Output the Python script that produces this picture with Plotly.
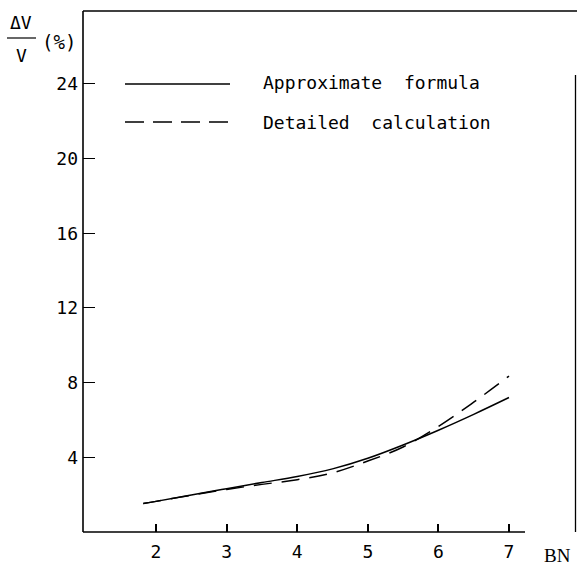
import plotly.graph_objects as go

# ---- data ----
bn_approx = [1.82, 2.0, 2.5, 3.0, 3.5, 4.0, 4.5, 5.0, 5.5, 6.0, 6.5, 7.0]
dv_approx = [1.53, 1.64, 1.98, 2.32, 2.65, 2.97, 3.38, 3.95, 4.66, 5.45, 6.30, 7.20]

bn_detail = [1.82, 2.0, 2.5, 3.0, 3.5, 4.0, 4.5, 5.0, 5.5, 6.0, 6.5, 7.0]
dv_detail = [1.53, 1.64, 1.97, 2.28, 2.55, 2.80, 3.17, 3.80, 4.55, 5.65, 6.95, 8.35]

x_ticks = [2, 3, 4, 5, 6, 7]
y_ticks = [4, 8, 12, 16, 20, 24]

label_approx = "Approximate  formula"
label_detail = "Detailed  calculation"

W, H = 577, 565
L, R, T, B = 83, 576, 11, 532

def px(x):
    return (x - L) / (R - L)

def py(y):
    return (B - y) / (B - T)

MONO = "DejaVu Sans Mono"

fig = go.Figure()
fig.add_trace(go.Scatter(x=bn_approx, y=dv_approx, mode="lines",
                         line=dict(color="black", width=1.5, shape="spline"),
                         showlegend=False))
fig.add_trace(go.Scatter(x=bn_detail, y=dv_detail, mode="lines",
                         line=dict(color="black", width=1.5, shape="spline", dash="18px,10px"),
                         showlegend=False))

shapes = []
# frame
shapes.append(dict(type="line", xref="paper", yref="paper", x0=0, x1=0, y0=0, y1=1,
                   line=dict(color="black", width=1.6)))
shapes.append(dict(type="line", xref="paper", yref="paper", x0=0, x1=px(577), y0=1, y1=1,
                   line=dict(color="black", width=1.3)))
shapes.append(dict(type="line", xref="paper", yref="paper", x0=px(575.5), x1=px(575.5), y0=0, y1=py(75),
                   line=dict(color="black", width=1.3)))
shapes.append(dict(type="line", xref="paper", yref="paper", x0=0, x1=px(525), y0=0, y1=0,
                   line=dict(color="black", width=1.6)))
# legend samples
shapes.append(dict(type="line", xref="paper", yref="paper", x0=px(125), x1=px(230), y0=py(84), y1=py(84),
                   line=dict(color="black", width=1.4)))
shapes.append(dict(type="line", xref="paper", yref="paper", x0=px(125), x1=px(229), y0=py(122), y1=py(122),
                   line=dict(color="black", width=1.4, dash="19px,9px")))
# fraction bar of y title
shapes.append(dict(type="line", xref="paper", yref="paper", x0=px(7), x1=px(36), y0=py(38), y1=py(38),
                   line=dict(color="black", width=1.2)))

annotations = [
    dict(text=label_approx, x=px(261), y=py(82), xref="paper", yref="paper",
         xanchor="left", yanchor="middle", showarrow=False,
         font=dict(family=MONO, size=18, color="black")),
    dict(text=label_detail, x=px(261), y=py(123), xref="paper", yref="paper",
         xanchor="left", yanchor="middle", showarrow=False,
         font=dict(family=MONO, size=18, color="black")),
    dict(text="ΔV", x=px(21), y=py(23), xref="paper", yref="paper",
         xanchor="center", yanchor="middle", showarrow=False,
         font=dict(family=MONO, size=18, color="black")),
    dict(text="V", x=px(21), y=py(55), xref="paper", yref="paper",
         xanchor="center", yanchor="middle", showarrow=False,
         font=dict(family=MONO, size=18, color="black")),
    dict(text="(%)", x=px(40), y=py(42), xref="paper", yref="paper",
         xanchor="left", yanchor="middle", showarrow=False,
         font=dict(family=MONO, size=19, color="black")),
    dict(text="BN", x=px(573), y=py(555), xref="paper", yref="paper",
         xanchor="right", yanchor="middle", showarrow=False,
         font=dict(family="Liberation Serif", size=19, color="black")),
]

fig.update_layout(
    width=W, height=H,
    margin=dict(l=L, r=W - R, t=T, b=H - B, pad=0),
    paper_bgcolor="white", plot_bgcolor="white",
    shapes=shapes, annotations=annotations,
    showlegend=False,
    xaxis=dict(range=[0.966, 7.949], tickvals=x_ticks, ticktext=[str(v) for v in x_ticks],
               ticks="inside", ticklen=8, tickwidth=1.5, tickcolor="black",
               showgrid=False, zeroline=False, showline=False,
               tickfont=dict(family=MONO, size=18, color="black"), ticklabelstandoff=7),
    yaxis=dict(range=[0, 27.9], tickvals=y_ticks, ticktext=[str(v) for v in y_ticks],
               ticks="inside", ticklen=12, tickwidth=1.3, tickcolor="black",
               showgrid=False, zeroline=False, showline=False,
               tickfont=dict(family=MONO, size=18, color="black"), ticklabelstandoff=4),
)

fig.write_html("out.html", config={"displayModeBar": False},
               post_script="document.body.style.margin='0';document.body.style.padding='0';")
